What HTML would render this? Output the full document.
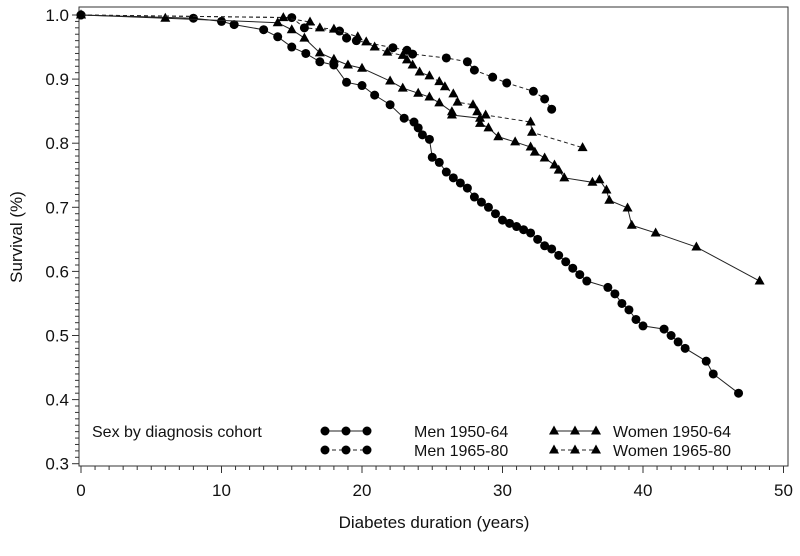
<!DOCTYPE html>
<html><head><meta charset="utf-8"><style>
body{margin:0;background:#fff}
svg text{font-family:"Liberation Sans",sans-serif;fill:#111}
</style></head><body>
<svg id="chart" width="800" height="551" xmlns="http://www.w3.org/2000/svg">
<rect x="79" y="7" width="709" height="459" fill="none" stroke="#333" stroke-width="1"/>
<g id="axes"></g><g id="series"></g>
<text transform="translate(22,237) rotate(-90)" text-anchor="middle" font-size="17">Survival (%)</text>
<text x="434" y="528" text-anchor="middle" font-size="17">Diabetes duration (years)</text>
<g id="legend"></g>
</svg>
<script>
const xTicks=[0,10,20,30,40,50];
const yTicks=[0.3,0.4,0.5,0.6,0.7,0.8,0.9,1.0];
const yTickLabels=["0.3","0.4","0.5","0.6","0.7","0.8","0.9","1.0"];
const men1950T=[0,8,10,10.9,13,14,15,16,17,18,18.9,20,20.9,22,23,23.7,24,24.3,24.8,25,25.5,26,26.5,27,27.5,28,28.5,29,29.5,30,30.5,31,31.5,32,32.5,33,33.5,34,34.5,35,35.5,36,37.5,38,38.5,39,39.5,40,41.5,42,42.5,43,44.5,45,46.8];
const men1950S=[1,0.995,0.99,0.985,0.977,0.966,0.95,0.94,0.927,0.922,0.895,0.89,0.875,0.86,0.839,0.833,0.824,0.813,0.806,0.778,0.77,0.755,0.746,0.738,0.73,0.716,0.708,0.70,0.69,0.68,0.675,0.67,0.665,0.66,0.65,0.64,0.635,0.625,0.615,0.605,0.595,0.585,0.575,0.565,0.55,0.54,0.525,0.515,0.51,0.50,0.49,0.48,0.46,0.44,0.41];
const women1950T=[0,6,14,15,15.9,17,18,19,20,22,22.9,24,24.8,25.5,26.4,26.4,28.4,28.4,29,29.7,30.9,32,32.3,33,33.7,34,34.4,36.4,36.9,37.4,37.6,38.9,39.2,40.9,43.8,48.3];
const women1950S=[1,0.995,0.988,0.977,0.964,0.941,0.931,0.922,0.917,0.897,0.886,0.878,0.872,0.863,0.849,0.844,0.839,0.831,0.824,0.81,0.802,0.794,0.786,0.777,0.766,0.758,0.746,0.739,0.743,0.727,0.711,0.699,0.672,0.66,0.638,0.585];
const men1965T=[0,15,15.9,18.4,18.9,19.6,22.2,23.2,23.6,26,27.5,28,29.3,30.3,32.2,33,33.5];
const men1965S=[1,0.996,0.98,0.975,0.964,0.96,0.949,0.945,0.939,0.933,0.927,0.914,0.903,0.894,0.881,0.869,0.853];
const women1965T=[0,14.4,16.3,17,18,19.7,20.3,20.9,21.8,22.9,23.2,23.6,24.1,24.8,25.5,25.9,26.5,26.8,27.9,28.2,28.8,32,32.1,35.7];
const women1965S=[1,0.996,0.989,0.98,0.978,0.966,0.958,0.95,0.942,0.937,0.93,0.922,0.911,0.905,0.896,0.888,0.877,0.864,0.86,0.849,0.844,0.833,0.817,0.793];
const NS="http://www.w3.org/2000/svg";
const X=t=>81+t*14.05, Y=v=>15+(1-v)*641;
function mk(tag,at,parent){const e=document.createElementNS(NS,tag);for(const k in at)e.setAttribute(k,at[k]);parent.appendChild(e);return e;}
const ax=document.getElementById('axes');
for(let t=0;t<=50;t++){mk('line',{x1:X(t),x2:X(t),y1:466,y2:t%10?470:473,stroke:'#333'},ax);}
xTicks.forEach(t=>{const e=mk('text',{x:X(t),y:496,'text-anchor':'middle','font-size':17},ax);e.textContent=t;

});
for(let i=0;i<=70;i++){const v=0.3+i*0.01;mk('line',{x1:i%10?75:72,x2:79,y1:Y(v),y2:Y(v),stroke:'#333'},ax);}
yTicks.forEach((v,i)=>{const e=mk('text',{x:69,y:Y(v)+6,'text-anchor':'end','font-size':17},ax);e.textContent=yTickLabels[i];

});
function marker(g,x,y,tri){if(tri)return mk('polygon',{points:`${x},${y-5.5} ${x-5},${y+3.5} ${x+5},${y+3.5}`,fill:'#000'},g);return mk('circle',{cx:x,cy:y,r:4.5,fill:'#000'},g);}
function series(name,T,S,tri,dash){const g=mk('g',{},document.getElementById('series'));


mk('polyline',{points:T.map((t,i)=>X(t)+','+Y(S[i])).join(' '),fill:'none',stroke:'#222','stroke-width':1,'stroke-dasharray':dash?'4,3':'none'},g);
T.forEach((t,i)=>marker(g,X(t),Y(S[i]),tri));}
series('men-1950-64-series',men1950T,men1950S,false,false);
series('women-1950-64-series',women1950T,women1950S,true,false);
series('men-1965-80-series',men1965T,men1965S,false,true);
series('women-1965-80-series',women1965T,women1965S,true,true);
const lg=document.getElementById('legend');
const lt=mk('text',{x:92,y:437,'font-size':16},lg);lt.textContent='Sex by diagnosis cohort';


function entry(name,label,x,y,tri,dash,tx){const g=mk('g',{},lg);


mk('line',{x1:x,x2:x+42,y1:y,y2:y,stroke:'#222','stroke-dasharray':dash?'4,3':'none'},g);
[0,21,42].forEach(d=>marker(g,x+d,y,tri));
const t=mk('text',{x:tx,y:y+6,'font-size':16},g);t.textContent=label;}
entry('legend-men-1950-64','Men 1950-64',325,431,false,false,414);
entry('legend-men-1965-80','Men 1965-80',325,450,false,true,414);
entry('legend-women-1950-64','Women 1950-64',554,431,true,false,613);
entry('legend-women-1965-80','Women 1965-80',554,450,true,true,613);
</script>
</body></html>
